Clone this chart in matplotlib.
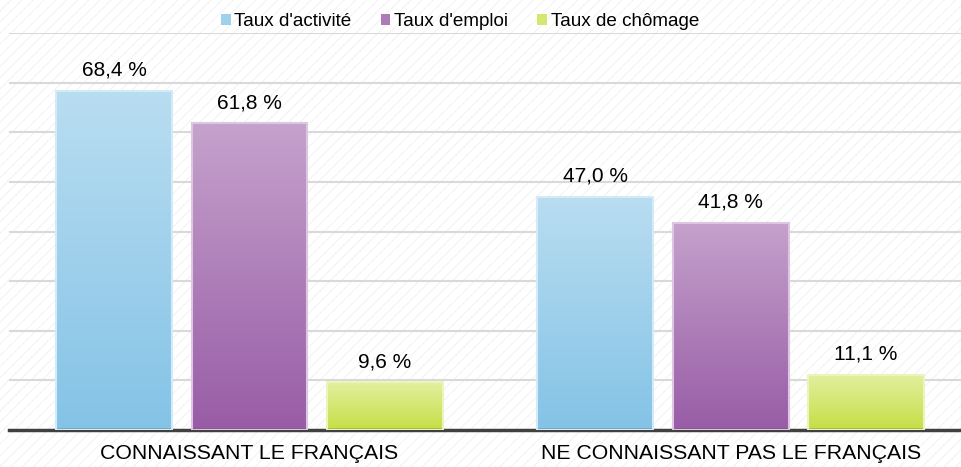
import numpy as np
import matplotlib
matplotlib.use("Agg")
import matplotlib.pyplot as plt
from matplotlib.colors import LinearSegmentedColormap
from matplotlib.patches import Rectangle

plt.rcParams["font.family"] = ["Liberation Sans", "DejaVu Sans"]
plt.rcParams["hatch.linewidth"] = 0.5

categories = ["CONNAISSANT LE FRANÇAIS", "NE CONNAISSANT PAS LE FRANÇAIS"]
series = ["Taux d'activité", "Taux d'emploi", "Taux de chômage"]
activite = [68.4, 47.0]
emploi = [61.8, 41.8]
chomage = [9.6, 11.1]
values = [activite, emploi, chomage]

# top colour, bottom colour, edge colour
grads = [("#b9ddf1", "#84c3e6", "#d3ebf7"),
         ("#c5a2cc", "#985ca6", "#dcc6e1"),
         ("#e2f09f", "#c6de45", "#eaf5bd")]

fig = plt.figure(figsize=(9.61, 4.67), dpi=100)
fig.add_artist(Rectangle((0, 0), 1, 1, transform=fig.transFigure,
                         facecolor="white", edgecolor="#ededed", lw=0,
                         hatch="///", zorder=-1))
ax = fig.add_axes([9 / 961, 37 / 467, 952 / 961, 397 / 467])
ax.set_facecolor("none")

x = np.arange(len(categories))
width = 0.241
offset = 0.2817
grad = np.linspace(1, 0, 256).reshape(-1, 1)

for i, (name, vals) in enumerate(zip(series, values)):
    top, bot, edge = grads[i]
    bars = ax.bar(x + (i - 1) * offset, vals, width, facecolor="none",
                  edgecolor=edge, linewidth=1.5, zorder=3, label=name)
    cmap = LinearSegmentedColormap.from_list(name, [bot, top])
    for b, v in zip(bars, vals):
        x0 = b.get_x()
        im = ax.imshow(grad, cmap=cmap, extent=[x0, x0 + width, 0, v],
                       aspect="auto", zorder=2, interpolation="bicubic")
        im.set_clip_path(b)
        ax.annotate(f"{v:.1f} %".replace(".", ","), (b.get_x() + width / 2, v),
                    xytext=(0, 8), textcoords="offset points",
                    ha="center", va="bottom", fontsize=15)

ax.set_xlim(-0.5, 1.479)
ax.set_ylim(0, 80)
ax.set_yticks(np.arange(10, 90, 10))
ax.yaxis.grid(True, color="#d9d9d9", linewidth=1.5)
ax.set_axisbelow(True)
ax.tick_params(axis="y", left=False, labelleft=False)
ax.set_xticks(x)
ax.set_xticklabels(categories, fontsize=15.3)
ax.tick_params(axis="x", length=0, pad=10)
for s in ["left", "right", "top"]:
    ax.spines[s].set_visible(False)
ax.spines["bottom"].set_color("#404040")
ax.spines["bottom"].set_linewidth(2.5)

handles = [Rectangle((0, 0), 1, 1, facecolor=c) for c in ["#9fd0ec", "#ad7bb8", "#d4e772"]]
fig.legend(handles, series, loc="center", bbox_to_anchor=(460 / 961, 1 - 22 / 467),
           ncol=3, frameon=False, fontsize=13.6, handlelength=0.5, handleheight=0.5,
           handletextpad=0.2, columnspacing=1.55)

fig.savefig("out.png", dpi=100)
